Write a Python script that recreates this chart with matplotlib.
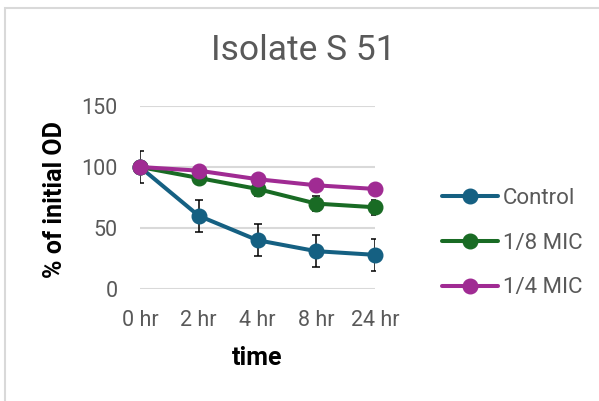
import matplotlib
matplotlib.use("Agg")
import matplotlib.pyplot as plt
from matplotlib.patches import Rectangle

plt.rcParams['font.family'] = ['Roboto', 'DejaVu Sans']

# data
times = ['0 hr', '2 hr', '4 hr', '8 hr', '24 hr']
control = [100, 60, 40, 31, 28]
control_err = [13, 13, 13, 13, 13]
mic_8 = [100, 91, 82, 70, 67]
mic_8_err = [0, 5, 5.5, 6, 6]
mic_4 = [100, 97, 90, 85, 82]
mic_4_err = [0, 1.5, 1.5, 1.5, 1.5]
names = ['Control', '1/8 MIC', '1/4 MIC']
colors = ['#156082', '#196B24', '#A02B93']

W, H = 599, 401
fig = plt.figure(figsize=(W / 100, H / 100), dpi=100)

# chart frame (only top/left edges fall inside the image)
fig.patches.append(Rectangle((5 / W, -1), 2, 2 - 8 / H, transform=fig.transFigure,
                             fill=False, edgecolor='#d9d9d9', lw=1.5))

ax = fig.add_axes([140 / W, (H - 289) / H, 235 / W, 183 / H])
x = list(range(len(times)))

series = [control, mic_8, mic_4]
errs = [control_err, mic_8_err, mic_4_err]
for vals, err, c, name in zip(series, errs, colors, names):
    ax.errorbar(x, vals, yerr=err, fmt='none', ecolor='black', elinewidth=1.1,
                capsize=3, capthick=1.1, zorder=2)
    ax.plot(x, vals, color=c, lw=2.9, marker='o', markersize=10.5,
            label=name, clip_on=False, zorder=3,
            solid_capstyle='round')

ax.set_xlim(0, 4)
ax.set_ylim(0, 150)
ax.set_yticks([0, 50, 100, 150])
ax.set_xticks(x)
ax.set_xticklabels(times)
ax.grid(axis='y', color='#d9d9d9', lw=1.5)
ax.set_axisbelow(True)
for s in ax.spines.values():
    s.set_visible(False)
ax.tick_params(length=0, labelsize=15.5, labelcolor='#595959')
ax.tick_params(axis='y', pad=16)
ax.tick_params(axis='x', pad=15)

leg = ax.legend(loc='center left', bbox_to_anchor=(422 / W, (H - 243) / H),
                bbox_transform=fig.transFigure, frameon=False, fontsize=16,
                handlelength=2.5, handletextpad=0.25, labelspacing=1.08)
for t in leg.get_texts():
    t.set_color('#595959')

fig.text(303 / W, 1 - 51 / H, 'Isolate S 51', ha='center', va='center',
         fontsize=25.5, color='#595959')
fig.text(55 / W, 1 - 200 / H, '% of initial OD', ha='center', va='center',
         rotation=90, fontsize=18, fontweight='bold', color='black')
fig.text(257 / W, 1 - 358 / H, 'time', ha='center', va='center',
         fontsize=18, fontweight='bold', color='black')

fig.savefig('out.png', dpi=100)
